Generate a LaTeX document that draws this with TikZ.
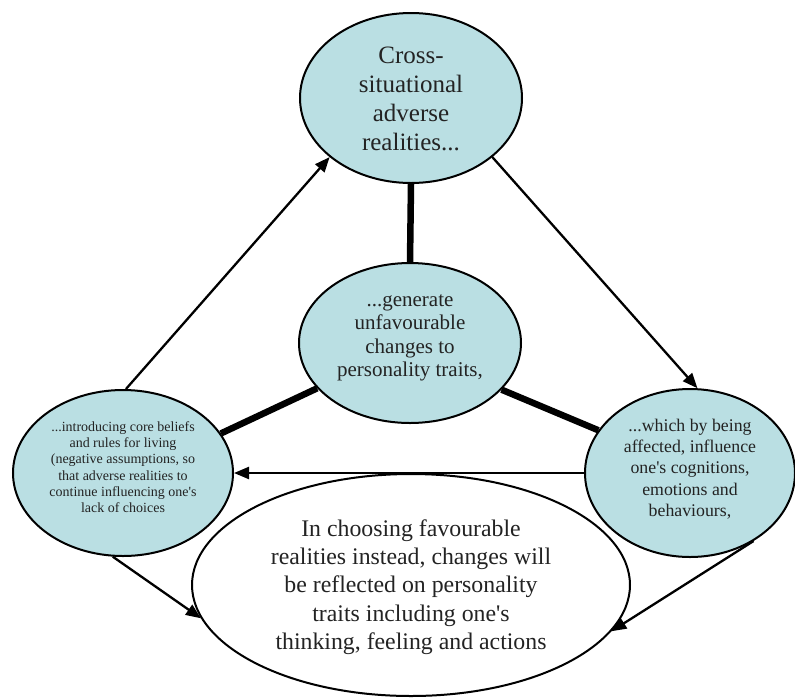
\documentclass[tikz,border=0pt]{standalone}
\usepackage{fontspec}
\setmainfont{Liberation Serif}[Ligatures=TeXOff]
\usetikzlibrary{arrows.meta,shapes.geometric}
\definecolor{teal1}{RGB}{186,223,227}
\definecolor{txt}{RGB}{35,35,35}
\tikzset{
  bub/.style={draw=black, line width=2pt, ellipse, inner sep=0pt},
  tealbub/.style={bub, fill=teal1},
  lbl/.style={text=txt, align=center, inner sep=0pt},
  conn/.style={line width=2.3pt, -{Triangle[length=15pt,width=12pt]}},
  thick link/.style={line width=6.5pt},
}
\begin{document}
\begin{tikzpicture}[x=1pt,y=-1pt]
\useasboundingbox (0,0) rectangle (795,697);
% ellipses
\node[tealbub, minimum width=222pt, minimum height=170pt] (top) at (411,98) {};
\node[tealbub, minimum width=222pt, minimum height=160pt] (mid) at (410,343) {};
\node[tealbub, minimum width=220pt, minimum height=166pt] (left) at (123,473) {};
\node[tealbub, minimum width=210pt, minimum height=168pt] (right) at (690,473) {};
\node[bub, fill=white, minimum width=438pt, minimum height=222pt] (bot) at (411,585) {};
% texts
\node[lbl, font=\fontsize{25}{29}\selectfont] (topt) at (411,99) {Cross-\\situational\\adverse\\realities...};
\node[lbl, font=\fontsize{21}{23.5}\selectfont] (midt) at (410,338) {...generate\\unfavourable\\changes to\\personality traits,};
\node[lbl, font=\fontsize{14}{16.3}\selectfont] (leftt) at (123,467) {...introducing core beliefs\\and rules for living\\(negative assumptions, so\\that adverse realities to\\continue influencing one's\\lack of choices};
\node[lbl, font=\fontsize{17.8}{21.3}\selectfont] (rightt) at (690,469) {...which by being\\affected, influence\\one's cognitions,\\emotions and\\behaviours,};
\node[lbl, font=\fontsize{23.8}{28.3}\selectfont] (bott) at (411,587) {In choosing favourable\\realities instead, changes will\\be reflected on personality\\traits including one's\\thinking, feeling and actions};
% thick links
\draw[thick link] (top.south) -- (mid.north);
\draw[thick link] (mid.206.3) -- (left.22.8);
\draw[thick link] (mid.333.7) -- (right.155.5);
% arrows
\draw[conn] (left.88) -- (top.216.1);
\draw[conn] (top.324.2) -- (right.85.2);
\draw[conn] (right.west) -- (left.east);
\draw[conn] (left.263.3) -- (bot.189.4);
\draw[conn] (right.313.7) -- (bot.347.3);
\end{tikzpicture}
\end{document}
